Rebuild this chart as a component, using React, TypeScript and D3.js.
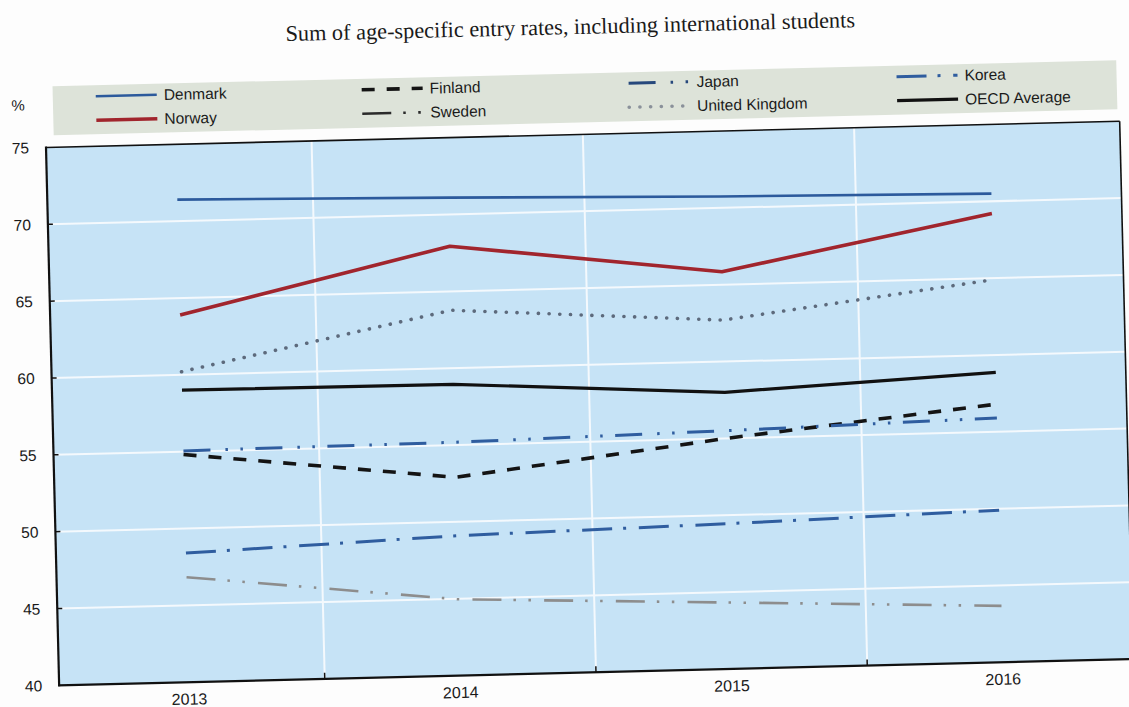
import React from 'react';
import * as d3 from 'd3';

const years = ['2013', '2014', '2015', '2016'];
const denmark = [71.4, 71.1, 70.74, 70.5];
const norway = [63.9, 67.94, 65.85, 69.2];
const unitedKingdom = [60.2, 63.77, 62.7, 64.9];
const oecdAverage = [59.0, 58.95, 58.0, 58.86];
const japan = [55.05, 55.18, 55.5, 55.9];
const finland = [54.81, 52.9, 55.0, 56.8];
const korea = [48.4, 49.1, 49.45, 49.9];
const sweden = [46.83, 44.96, 44.32, 43.67];
const yTicks = [40, 45, 50, 55, 60, 65, 70, 75];

const title = 'Sum of age-specific entry rates, including international students';

type Series = {
  name: string;
  values: number[];
  color: string;
  legendColor: string;
  width: number;
  dash?: string;
  cap?: 'round' | 'butt';
};

const series: Series[] = [
  { name: 'Denmark', values: denmark, color: '#2c5a9c', legendColor: '#2c5a9c', width: 2.6 },
  { name: 'Norway', values: norway, color: '#a1252d', legendColor: '#a1252d', width: 3.6 },
  { name: 'Finland', values: finland, color: '#141414', legendColor: '#141414', width: 3.6, dash: '13 12' },
  { name: 'Sweden', values: sweden, color: '#8d8d8d', legendColor: '#2a2a2a', width: 2.6, dash: '29 12 2.5 12.5 2.5 13.2' },
  { name: 'Japan', values: japan, color: '#2f5d9f', legendColor: '#26487c', width: 3, dash: '27 15 2.5 12.5 2.5 12.5' },
  { name: 'United Kingdom', values: unitedKingdom, color: '#5d6a7c', legendColor: '#8a919a', width: 3.6, dash: '0.1 10.6', cap: 'round' },
  { name: 'Korea', values: korea, color: '#2f5d9f', legendColor: '#2f5d9f', width: 3, dash: '30 11 3 12.7' },
  { name: 'OECD Average', values: oecdAverage, color: '#111111', legendColor: '#111111', width: 3.2 },
];

// legend layout: column index / row index for each series (in order above)
const legendCols = [0, 0, 1, 1, 2, 2, 3, 3];
const legendRows = [0, 1, 0, 1, 0, 1, 0, 1];

const W = 1074;
const H = 538;
const ANGLE = -1.4;
const ORIGIN_X = 46;
const ORIGIN_Y = 147.5;

export default function App() {
  const x = d3.scalePoint<string>().domain(years).range([130, 944]);
  const step = x.step();
  const y = d3.scaleLinear().domain([40, 75]).range([H, 0]);
  const line = d3
    .line<number>()
    .x((_, i) => x(years[i]) as number)
    .y((d) => y(d));

  const font = '"Liberation Sans", Arial, Helvetica, sans-serif';
  const legendColX = [51, 317, 584, 852];
  const legendRowY = [-50, -26];
  const sampleLen = 61;

  return (
    <svg
      width={1129}
      height={707}
      style={{ position: 'absolute', left: 0, top: 0, background: '#fdfdfd' }}
    >
      <rect x={0} y={0} width={1129} height={707} fill="#fdfdfd" />
      <g transform={`translate(${ORIGIN_X},${ORIGIN_Y}) rotate(${ANGLE})`}>
        {/* title */}
        <text
          x={527}
          y={-108}
          textAnchor="middle"
          dominantBaseline="central"
          fontFamily='"Liberation Serif", "Times New Roman", serif'
          fontSize={22.3}
          fill="#1a1a1a"
        >
          {title}
        </text>

        {/* legend box */}
        <rect x={8} y={-61} width={1064} height={49} fill="#dde3d9" />
        {series.map((s, i) => {
          const lx = legendColX[legendCols[i]];
          const ly = legendRowY[legendRows[i]];
          return (
            <g key={s.name}>
              <line
                x1={lx}
                x2={lx + sampleLen}
                y1={ly}
                y2={ly}
                stroke={s.legendColor}
                strokeWidth={s.width}
                strokeDasharray={s.dash}
                strokeLinecap={s.cap || 'butt'}
              />
              <text
                x={lx + sampleLen + 7}
                y={ly}
                dominantBaseline="central"
                fontFamily={font}
                fontSize={15.5}
                fill="#1a1a1a"
              >
                {s.name}
              </text>
            </g>
          );
        })}

        {/* % unit */}
        <text x={-27} y={-43} textAnchor="middle" dominantBaseline="central" fontFamily={font} fontSize={15} fill="#1a1a1a">
          %
        </text>

        {/* plot background */}
        <rect x={0} y={0} width={W} height={H} fill="#c6e3f6" />

        {/* horizontal gridlines */}
        {yTicks
          .filter((t) => t > 40 && t < 75)
          .map((t) => (
            <line key={'h' + t} x1={0} x2={W} y1={y(t)} y2={y(t)} stroke="#f4f9fd" strokeWidth={2} />
          ))}
        {/* vertical gridlines between categories */}
        {years.slice(1).map((yr) => (
          <line
            key={'v' + yr}
            x1={(x(yr) as number) - step / 2}
            x2={(x(yr) as number) - step / 2}
            y1={0}
            y2={H}
            stroke="#f4f9fd"
            strokeWidth={2}
          />
        ))}

        {/* series */}
        {series.map((s) => (
          <path
            key={'p' + s.name}
            d={line(s.values) || ''}
            fill="none"
            stroke={s.color}
            strokeWidth={s.width}
            strokeDasharray={s.dash}
            strokeLinecap={s.cap || 'butt'}
            strokeLinejoin="round"
          />
        ))}

        {/* frame */}
        <line x1={0} x2={W} y1={0} y2={0} stroke="#111" strokeWidth={1.6} />
        <line x1={W} x2={W} y1={0} y2={H} stroke="#111" strokeWidth={1.6} />
        <line x1={0} x2={0} y1={-1} y2={H + 1} stroke="#111" strokeWidth={2.2} />
        <line x1={-1} x2={W} y1={H} y2={H} stroke="#111" strokeWidth={2.2} />

        {/* y ticks and labels */}
        {yTicks.map((t) => (
          <g key={'yt' + t}>
            {t > 40 && t < 75 && <line x1={0} x2={5} y1={y(t)} y2={y(t)} stroke="#111" strokeWidth={1.5} />}
            <text
              x={-17}
              y={y(t)}
              textAnchor="end"
              dominantBaseline="central"
              fontFamily={font}
              fontSize={15.5}
              fill="#1a1a1a"
            >
              {t}
            </text>
          </g>
        ))}

        {/* x ticks and labels */}
        {years.slice(1).map((yr) => (
          <line
            key={'xt' + yr}
            x1={(x(yr) as number) - step / 2}
            x2={(x(yr) as number) - step / 2}
            y1={H}
            y2={H - 6}
            stroke="#111"
            strokeWidth={1.5}
          />
        ))}
        {years.map((yr) => (
          <text
            key={'xl' + yr}
            x={x(yr) as number}
            y={H + 17}
            textAnchor="middle"
            dominantBaseline="central"
            fontFamily={font}
            fontSize={16}
            fill="#1a1a1a"
          >
            {yr}
          </text>
        ))}
      </g>
    </svg>
  );
}
